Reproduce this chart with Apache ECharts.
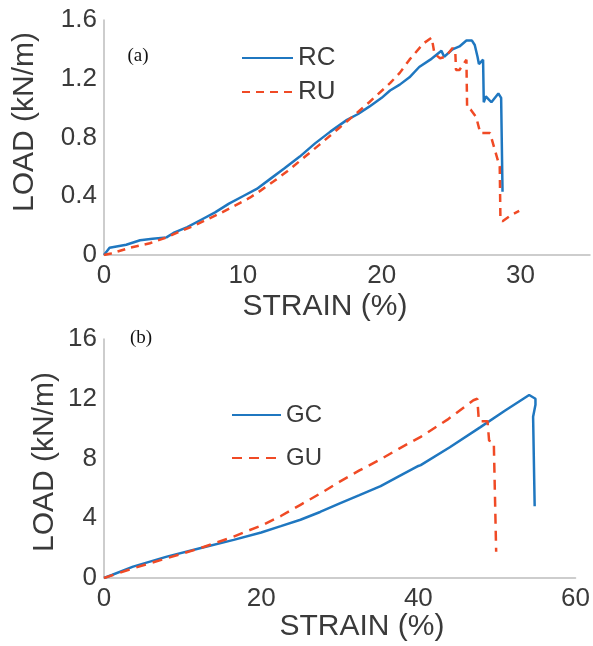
<!DOCTYPE html>
<html>
<head>
<meta charset="utf-8">
<script src="https://cdn.jsdelivr.net/npm/echarts@6/dist/echarts.min.js"></script>
<style>
html,body{margin:0;padding:0;background:#fff;}
#c{width:593px;height:646px;}
</style>
</head>
<body>
<div id="c"></div>
<script>
// ---- Data (a): strain (%) vs load (kN/m)
const rcStrain = [0,0.4,1.0,1.6,2.6,3.5,4.5,5.0,6.0,7.0,8.0,9.0,10.0,11.0,12.0,13.0,14.1,15.2,16.3,17.5,18.3,19.1,20.0,20.6,21.3,22.0,22.7,23.5,23.9,24.3,24.5,25.1,25.6,26.1,26.5,26.7,26.9,27.0,27.3,27.35,27.5,27.7,27.9,28.4,28.6,28.7];
const rcLoad   = [0,0.05,0.06,0.07,0.10,0.11,0.12,0.15,0.19,0.24,0.29,0.35,0.40,0.45,0.52,0.59,0.67,0.76,0.84,0.92,0.96,1.01,1.07,1.12,1.16,1.21,1.28,1.33,1.36,1.39,1.35,1.40,1.42,1.46,1.46,1.43,1.35,1.30,1.33,1.04,1.08,1.06,1.04,1.10,1.07,0.43];
const ruStrain = [0,0.5,1.9,3.3,4.5,5.7,6.5,7.6,8.5,9.3,10.5,11.3,12.2,13.2,14.1,15.5,17.0,18.0,19.1,20.6,21.3,22.0,23.0,23.6,23.8,24.2,24.6,25.1,25.3,25.35,25.6,26.1,26.15,26.4,26.8,27.1,27.8,28.5,28.55,28.7,29.3,29.9];
const ruLoad   = [0,0.01,0.05,0.08,0.12,0.17,0.20,0.25,0.29,0.33,0.39,0.44,0.50,0.57,0.64,0.75,0.87,0.95,1.04,1.17,1.24,1.33,1.44,1.48,1.37,1.34,1.35,1.41,1.38,1.26,1.26,1.33,1.00,0.99,0.94,0.83,0.83,0.60,0.24,0.23,0.27,0.30];
// ---- Data (b)
const gcStrain = [0,1,3.7,8,12.2,16.5,20,22.5,25,27.5,30,32.5,35.2,37.5,40,40.3,40.5,44,47.9,51,54.1,54.9,54.9,54.6,54.8];
const gcLoad   = [0,0.2,0.76,1.43,1.99,2.55,3.05,3.47,3.9,4.42,5.0,5.55,6.15,6.8,7.5,7.56,7.45,8.75,10.1,11.2,12.25,12.0,11.6,10.8,4.8];
const guStrain = [0,3.7,8,12.2,16.5,18,20,22.5,25,27.5,30,32.5,35.2,37.5,40.3,43.7,47.0,47.5,47.7,48.8,49.0,49.6,49.9];
const guLoad   = [0,0.65,1.32,1.99,2.77,3.1,3.5,4.15,4.9,5.65,6.45,7.2,7.95,8.65,9.45,10.6,11.9,12.0,10.5,10.5,9.2,9.1,1.76];
// ---- Axes / labels
const xTicksA = [0,10,20,30];
const yTicksA = [0,0.4,0.8,1.2,1.6];
const xTicksB = [0,20,40,60];
const yTicksB = [0,4,8,12,16];

const zip = (xs, ys) => xs.map((x, i) => [x, ys[i]]);
const BLUE = '#1f77c0', RED = '#f04a25';
const TXT = '#3a3a3a', AX = '#bdbdbd';
const SANS = '"Liberation Sans", Arial, sans-serif';
const SERIF = '"Liberation Serif", "Times New Roman", serif';

const axLine = {show:true, lineStyle:{color:AX, width:1.5}};
const lab = (ticks, fmt, margin) => ({
  color:TXT, fontFamily:SANS, fontSize:26, margin:margin,
  formatter: v => ticks.some(t => Math.abs(t - v) < 1e-9) ? fmt(v) : ''
});

const chart = echarts.init(document.getElementById('c'));
chart.setOption({
  animation:false,
  backgroundColor:'#fff',
  grid:[
    {left:104, top:20, width:486, height:235},
    {left:104, top:339, width:473, height:239}
  ],
  xAxis:[
    {type:'value', gridIndex:0, min:0, max:35, interval:10, axisLine:axLine, axisTick:{show:false}, splitLine:{show:false},
     axisLabel:lab(xTicksA, v => String(v), 8)},
    {type:'value', gridIndex:1, min:0, max:60, interval:20, axisLine:axLine, axisTick:{show:false}, splitLine:{show:false},
     axisLabel:lab(xTicksB, v => String(v), 8)}
  ],
  yAxis:[
    {type:'value', gridIndex:0, min:0, max:1.6, interval:0.4, axisLine:axLine, axisTick:{show:false}, splitLine:{show:false},
     axisLabel:lab(yTicksA, v => v === 0 ? '0' : v.toFixed(1), 7)},
    {type:'value', gridIndex:1, min:0, max:16, interval:4, axisLine:axLine, axisTick:{show:false}, splitLine:{show:false},
     axisLabel:lab(yTicksB, v => String(v), 7)}
  ],
  legend:[
    {data:['RC','RU'], orient:'vertical', left:241, top:44, padding:0, itemWidth:51, itemHeight:14, itemGap:6,
     itemStyle:{opacity:0}, textStyle:{color:TXT, fontFamily:SANS, fontSize:26, lineHeight:28}},
    {data:['GC','GU'], orient:'vertical', left:231, top:402, padding:0, itemWidth:49, itemHeight:14, itemGap:17,
     itemStyle:{opacity:0}, textStyle:{color:TXT, fontFamily:SANS, fontSize:24, lineHeight:26}}
  ],
  series:[
    {name:'RC', type:'line', xAxisIndex:0, yAxisIndex:0, data:zip(rcStrain, rcLoad), showSymbol:false, symbol:'none',
     color:BLUE, lineStyle:{color:BLUE, width:2.5}},
    {name:'RU', type:'line', xAxisIndex:0, yAxisIndex:0, data:zip(ruStrain, ruLoad), showSymbol:false, symbol:'none',
     color:RED, lineStyle:{color:RED, width:2.5, type:[8,6]}},
    {name:'GC', type:'line', xAxisIndex:1, yAxisIndex:1, data:zip(gcStrain, gcLoad), showSymbol:false, symbol:'none',
     color:BLUE, lineStyle:{color:BLUE, width:2.5}},
    {name:'GU', type:'line', xAxisIndex:1, yAxisIndex:1, data:zip(guStrain, guLoad), showSymbol:false, symbol:'none',
     color:RED, lineStyle:{color:RED, width:2.5, type:[10,7]}}
  ],
  graphic:[
    {type:'text', x:138, y:56, style:{text:'(a)', font:'19px ' + SERIF, fill:'#111', align:'center', verticalAlign:'middle'}},
    {type:'text', x:141, y:338, style:{text:'(b)', font:'19px ' + SERIF, fill:'#111', align:'center', verticalAlign:'middle'}},
    {type:'text', x:25, y:122, rotation:Math.PI/2, style:{text:'LOAD (kN/m)', font:'30px ' + SANS, fill:TXT, align:'center', verticalAlign:'middle'}},
    {type:'text', x:45, y:462, rotation:Math.PI/2, style:{text:'LOAD (kN/m)', font:'30px ' + SANS, fill:TXT, align:'center', verticalAlign:'middle'}},
    {type:'text', x:325, y:307, style:{text:'STRAIN (%)', font:'30px ' + SANS, fill:TXT, align:'center', verticalAlign:'middle'}},
    {type:'text', x:362, y:627, style:{text:'STRAIN (%)', font:'30px ' + SANS, fill:TXT, align:'center', verticalAlign:'middle'}}
  ]
});
</script>
</body>
</html>
